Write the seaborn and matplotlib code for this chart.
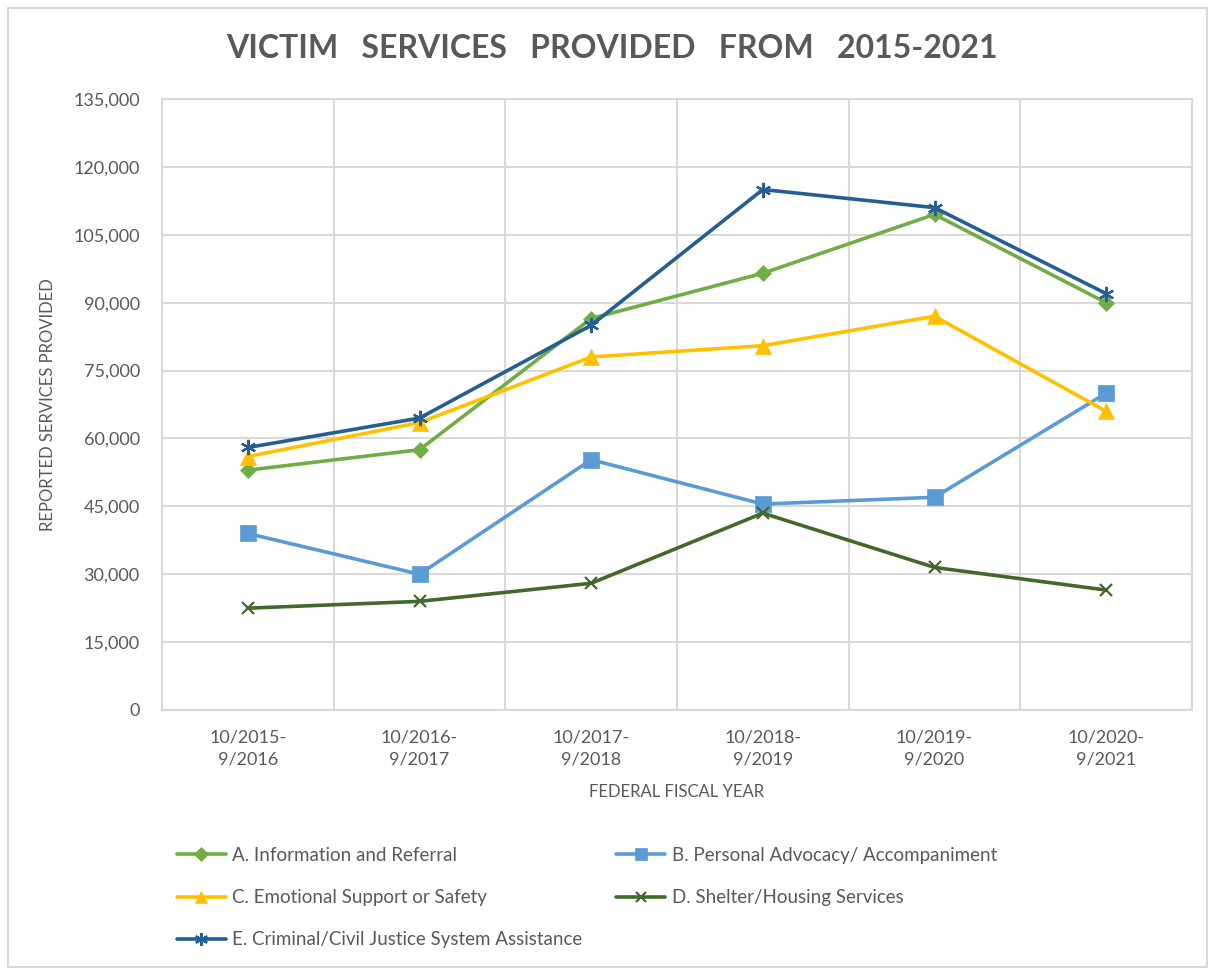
import numpy as np
import pandas as pd
import seaborn as sns
import matplotlib.pyplot as plt
from matplotlib.patches import Rectangle
from matplotlib.ticker import FuncFormatter, FixedLocator

# data
years = ['10/2015-\n9/2016', '10/2016-\n9/2017', '10/2017-\n9/2018',
         '10/2018-\n9/2019', '10/2019-\n9/2020', '10/2020-\n9/2021']
info_referral = [53000, 57500, 86500, 96500, 109500, 90000]
personal_advocacy = [39000, 30000, 55300, 45500, 47000, 70000]
emotional_support = [56000, 63500, 78000, 80500, 87000, 66000]
shelter_housing = [22500, 24000, 28000, 43500, 31500, 26500]
justice_assistance = [58000, 64500, 85000, 115000, 111000, 92000]

series_names = ['A. Information and Referral', 'B. Personal Advocacy/ Accompaniment',
                'C. Emotional Support or Safety', 'D. Shelter/Housing Services',
                'E. Criminal/Civil Justice System Assistance']
series_vals = [info_referral, personal_advocacy, emotional_support,
               shelter_housing, justice_assistance]

colors = ['#70AD47', '#5B9BD5', '#FFC000', '#43682B', '#255E91']
markers = ['D', 's', '^', 'x', (6, 2, 0)]
msizes = [8, 11, 11, 9, 11]

sns.set_theme(style='white')
plt.rcParams['font.family'] = ['Lato', 'DejaVu Sans']
text_col = '#595959'
grid_col = '#D9D9D9'

fig = plt.figure(figsize=(12.15, 9.75), dpi=100)
ax = fig.add_axes([162 / 1215, 1 - 710 / 975, (1192 - 162) / 1215, (710 - 99) / 975])

pos = np.arange(len(years))
handles = []
for name, vals, col, mk, ms in zip(series_names, series_vals, colors, markers, msizes):
    df = pd.DataFrame({'pos': pos, 'value': vals})
    sns.lineplot(data=df, x='pos', y='value', ax=ax, color=col, linewidth=2.6,
                 marker=mk, markersize=ms, markeredgecolor=col, markerfacecolor=col,
                 markeredgewidth=1.6 if mk in ('x', (6, 2, 0)) else 0.5,
                 label=name, legend=False)
    handles.append(ax.lines[-1])

ax.set_xlim(-0.5, len(years) - 0.5)
ax.set_ylim(0, 135000)
ax.set_yticks(np.arange(0, 135001, 15000))
ax.yaxis.set_major_formatter(FuncFormatter(lambda v, p: f'{int(v):,}'))
ax.set_xticks(pos)
ax.set_xticklabels(years)
ax.xaxis.set_minor_locator(FixedLocator(np.arange(-0.5, len(years), 1.0)))
ax.grid(True, axis='y', which='major', color=grid_col, linewidth=1.5)
ax.grid(True, axis='x', which='minor', color=grid_col, linewidth=1.5)
ax.grid(False, axis='x', which='major')
ax.set_axisbelow(True)
for sp in ax.spines.values():
    sp.set_color(grid_col)
    sp.set_linewidth(1.5)
ax.tick_params(axis='both', which='both', length=0, colors=text_col, labelsize=13)
ax.tick_params(axis='x', pad=14)
ax.tick_params(axis='y', pad=16)
for lab in ax.get_xticklabels():
    lab.set_linespacing(1.45)

ax.set_xlabel('FEDERAL FISCAL YEAR', color=text_col, fontsize=12, labelpad=12)
ax.set_ylabel('REPORTED SERVICES PROVIDED', color=text_col, fontsize=12, labelpad=12)

fig.text(0.504, 1 - 48 / 975, 'VICTIM   SERVICES   PROVIDED   FROM   2015-2021', ha='center',
         va='center', fontsize=23, fontweight='bold', color=text_col)

order = [0, 2, 4, 1, 3]
leg = fig.legend([handles[i] for i in order], [series_names[i] for i in order],
                 loc='upper left', bbox_to_anchor=(160 / 1215, 1 - 830 / 975), ncol=2,
                 frameon=False, fontsize=13.5, handlelength=2.6, columnspacing=1.8,
                 labelspacing=1.35, handletextpad=0.35, markerscale=0.85)
for t in leg.get_texts():
    t.set_color(text_col)

fig.patches.append(Rectangle((8 / 1215, 8 / 975), 1199 / 1215, 959 / 975,
                             transform=fig.transFigure, fill=False,
                             edgecolor=grid_col, linewidth=1.5))

fig.savefig('out.png', dpi=100)
